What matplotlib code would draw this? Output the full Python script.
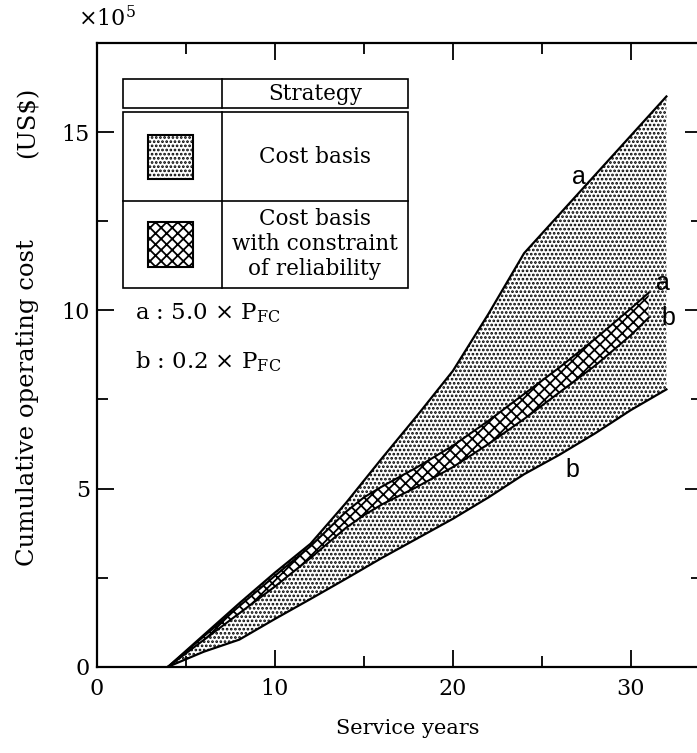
import matplotlib
matplotlib.use('Agg')
import matplotlib.pyplot as plt
from matplotlib.patches import Rectangle
from matplotlib.lines import Line2D

plt.rcParams['font.family'] = 'DejaVu Serif'
plt.rcParams['mathtext.fontset'] = 'dejavuserif'
plt.rcParams['hatch.color'] = 'black'
plt.rcParams['hatch.linewidth'] = 1.3

# cumulative operating cost in 1e5 US$ against service years
# cost basis strategy: a = 5.0 x P_FC, b = 0.2 x P_FC
years = [4, 6, 8, 10, 12, 14, 16, 18, 20, 22, 24, 26, 28, 30, 32]
cost_a = [0, 0.89, 1.78, 2.64, 3.45, 4.6, 5.84, 7.05, 8.3, 9.9, 11.6, 12.7, 13.8, 14.9, 16.0]
cost_b = [0, 0.42, 0.76, 1.34, 1.9, 2.47, 3.05, 3.6, 4.15, 4.75, 5.4, 5.95, 6.55, 7.2, 7.78]

# cost basis with constraint of reliability
years_rel = [4, 6, 8, 10, 12, 14, 15, 16, 18, 20, 22, 24, 26, 28, 30, 31]
rel_a = [0, 0.85, 1.7, 2.55, 3.38, 4.35, 4.75, 5.05, 5.6, 6.2, 6.9, 7.65, 8.4, 9.2, 10.05, 10.49]
rel_b = [0, 0.75, 1.5, 2.25, 3.05, 3.9, 4.25, 4.55, 5.05, 5.6, 6.25, 6.95, 7.7, 8.45, 9.3, 9.79]

W, H = 697, 753


def fp(x, y):
    # pixel position -> figure fraction
    return x / W, 1 - y / H


fig = plt.figure(figsize=(W / 100, H / 100), dpi=100)
ax = fig.add_axes([97 / W, (H - 666.7) / H, 605 / W, 623.7 / H])

ax.fill_between(years, cost_a, cost_b, facecolor='white', edgecolor='black',
                hatch='....', linewidth=0)
ax.fill_between(years_rel, rel_a, rel_b, facecolor='white', edgecolor='black',
                hatch='xxx', linewidth=0)
for yy in (cost_a, cost_b):
    ax.plot(years, yy, color='black', lw=1.6)
for yy in (rel_a, rel_b):
    ax.plot(years_rel, yy, color='black', lw=1.5)

lab = dict(fontfamily='Liberation Sans', fontsize=18, ha='center', va='center')
ax.text(27.1, 13.74, 'a', **lab)
ax.text(31.8, 10.77, 'a', **lab)
ax.text(32.1, 9.78, 'b', **lab)
ax.text(26.74, 5.52, 'b', **lab)

ax.set_xlim(0, 34)
ax.set_ylim(0, 17.5)
ax.set_xticks([0, 10, 20, 30])
ax.set_xticks([5, 15, 25], minor=True)
ax.set_yticks([0, 5, 10, 15])
ax.set_yticks([2.5, 7.5, 12.5], minor=True)
ax.tick_params(which='both', direction='in', top=True, right=True, width=1.3,
               labelsize=16)
ax.tick_params(which='major', length=12)
ax.tick_params(which='minor', length=8)
ax.tick_params(axis='x', pad=8)
ax.tick_params(axis='y', pad=5)
for s in ax.spines.values():
    s.set_linewidth(1.6)

# strategy table
tb = dict(transform=fig.transFigure, color='black', lw=1.2)
x0, x1, xm = 122.7, 408, 221.7
for top, bot in ((79.3, 108.3), (111.7, 287.7)):
    fig.add_artist(Rectangle(fp(x0, bot), (x1 - x0) / W, (bot - top) / H,
                             transform=fig.transFigure, fill=False,
                             edgecolor='black', lw=1.2))
    fig.add_artist(Line2D([xm / W, xm / W], [fp(0, top)[1], fp(0, bot)[1]], **tb))
fig.add_artist(Line2D([x0 / W, x1 / W], [fp(0, 200.7)[1]] * 2, **tb))

fig.add_artist(Rectangle(fp(147.7, 179.3), 45 / W, 44.3 / H,
                         transform=fig.transFigure, facecolor='white',
                         edgecolor='black', hatch='....', lw=1.5))
fig.add_artist(Rectangle(fp(147.7, 266.7), 45.3 / W, 44.4 / H,
                         transform=fig.transFigure, facecolor='white',
                         edgecolor='black', hatch='xxx', lw=1.5))

cx = (xm + x1) / 2
tf = dict(ha='center', va='center', fontsize=15.5)
fig.text(*fp(cx, 94), 'Strategy', **tf)
fig.text(*fp(cx, 157), 'Cost basis', **tf)
fig.text(*fp(cx, 244), 'Cost basis\nwith constraint\nof reliability',
         linespacing=1.15, **tf)

fig.text(*fp(135, 313), r'a : 5.0 $\times$ P$_{\mathrm{FC}}$', ha='left',
         va='center', fontsize=16.5)
fig.text(*fp(135, 362), r'b : 0.2 $\times$ P$_{\mathrm{FC}}$', ha='left',
         va='center', fontsize=16.5)

fig.text(*fp(78, 19), r'$\times$10$^5$', ha='left', va='center', fontsize=16)
fig.text(*fp(28, 403), 'Cumulative operating cost', rotation=90,
         ha='center', va='center', fontsize=17.5)
fig.text(*fp(28, 122), '(US$)', rotation=90, ha='center', va='center',
         fontsize=17.5)
fig.text(*fp(408, 728), 'Service years', ha='center', va='center', fontsize=15)

fig.savefig('out.png', dpi=100)
